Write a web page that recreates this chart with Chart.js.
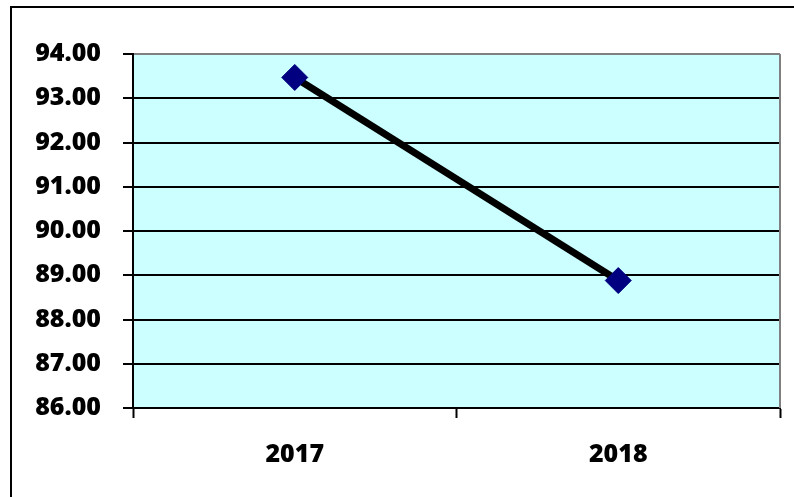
<!DOCTYPE html>
<html>
<head>
<meta charset="utf-8">
<script src="https://cdn.jsdelivr.net/npm/chart.js@4"></script>
<style>
  html, body { margin: 0; padding: 0; background: #fff; }
  #wrap { width: 794px; height: 497px; }
</style>
</head>
<body>
<div id="wrap"><canvas id="chart" width="794" height="497"></canvas></div>
<script>
const years = ["2017", "2018"];
const values = [93.47, 88.88];
const yMin = 86;
const yMax = 94;
const yStep = 1;

const labelFont = { family: "'Open Sans', 'DejaVu Sans', sans-serif", size: 25, weight: "800" };

// fills the plot area and draws the outer frame / right border
const plotDecor = {
  id: "plotDecor",
  beforeDraw(chart) {
    const { ctx, chartArea: a } = chart;
    ctx.save();
    ctx.fillStyle = "#CCFFFF";
    ctx.fillRect(a.left, a.top, a.right - a.left, a.bottom - a.top);
    ctx.strokeStyle = "#000";
    ctx.lineWidth = 2;
    ctx.strokeRect(11, 7, 900, 600);
    ctx.restore();
  },
  beforeDatasetsDraw(chart) {
    const { ctx, chartArea: a } = chart;
    ctx.save();
    ctx.strokeStyle = "#808080";
    ctx.lineWidth = 2;
    ctx.beginPath();
    ctx.moveTo(a.right, a.top);
    ctx.lineTo(a.right, a.bottom);
    ctx.stroke();
    ctx.restore();
  }
};

const ctx = document.getElementById("chart").getContext("2d");
new Chart(ctx, {
  type: "line",
  data: {
    labels: years,
    datasets: [
      {
        data: values,
        borderColor: "#000",
        borderWidth: 7,
        pointStyle: "rectRot",
        pointRadius: 13,
        pointBackgroundColor: "#000080",
        pointBorderColor: "#000080",
        pointBorderWidth: 1,
        tension: 0,
      },
    ],
  },
  options: {
    responsive: false,
    animation: false,
    layout: { padding: { left: 0, right: 12, top: 54, bottom: 0 } },
    plugins: { legend: { display: false }, tooltip: { enabled: false } },
    scales: {
      x: {
        offset: true,
        grid: { offset: true, drawOnChartArea: false, drawTicks: true, tickLength: 10, tickWidth: 2, tickColor: "#000" },
        border: { color: "#000", width: 2 },
        ticks: { color: "#000", font: labelFont, padding: 22 },
        afterFit(scale) { scale.height = 89; },
      },
      y: {
        min: yMin,
        max: yMax,
        grid: {
          color: (c) => (c.tick && c.tick.value === yMax ? "#808080" : "#000"),
          lineWidth: 2,
          tickColor: "#000",
          tickWidth: 2,
          tickLength: 10,
        },
        border: { color: "#000", width: 2 },
        ticks: {
          stepSize: yStep,
          color: "#000",
          font: labelFont,
          padding: 22,
          callback: (v) => Number(v).toFixed(2),
        },
        afterFit(scale) { scale.width = 133; },
      },
    },
  },
  plugins: [plotDecor],
});
</script>
</body>
</html>
